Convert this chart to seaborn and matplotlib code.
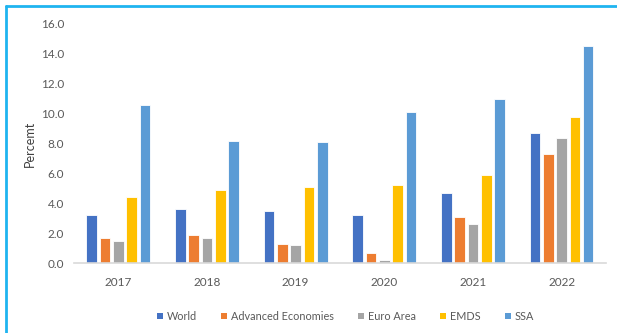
import pandas as pd
import matplotlib.pyplot as plt
import seaborn as sns
from matplotlib.patches import Patch
from matplotlib.lines import Line2D

# ================= data =================
YEARS = ['2017', '2018', '2019', '2020', '2021', '2022']
SERIES = ['World', 'Advanced Economies', 'Euro Area', 'EMDS', 'SSA']
WORLD = [3.2, 3.6, 3.5, 3.2, 4.7, 8.7]
ADVANCED = [1.7, 1.9, 1.3, 0.7, 3.1, 7.3]
EURO_AREA = [1.5, 1.7, 1.2, 0.2, 2.6, 8.4]
EMDS = [4.4, 4.9, 5.1, 5.2, 5.9, 9.8]
SSA = [10.6, 8.2, 8.1, 10.1, 11.0, 14.5]
COLORS = ['#4472C4', '#ED7D31', '#A5A5A5', '#FFC000', '#5B9BD5']

df = pd.DataFrame({'Year': YEARS * 5,
                   'Series': [s for s in SERIES for _ in YEARS],
                   'Value': WORLD + ADVANCED + EURO_AREA + EMDS + SSA})

# ================= style =================
sns.set_theme(style='white')
plt.rcParams['font.family'] = ['Lato', 'DejaVu Sans']

fig = plt.figure(figsize=(6.17, 3.33), dpi=100)
ax = fig.add_axes([0.12, 0.21, 0.862, 0.718])

sns.barplot(data=df, x='Year', y='Value', hue='Series', palette=COLORS,
            saturation=1, width=0.75, gap=0.2, edgecolor='white', linewidth=0.6,
            legend=False, ax=ax)

ax.set_ylim(0, 16)
ax.set_yticks(range(0, 17, 2))
ax.set_yticklabels([f'{v:.1f}' for v in range(0, 17, 2)])
ax.set_xlim(-0.5, 5.5)
ax.tick_params(axis='both', labelsize=8.5, colors='#595959', length=0, pad=7)
ax.tick_params(axis='x', pad=10)
ax.set_xlabel('')
ax.set_ylabel('Percemt', fontsize=9, color='#404040', labelpad=4)

for s in ['top', 'right', 'left']:
    ax.spines[s].set_visible(False)
ax.spines['bottom'].set_color('#D9D9D9')
ax.spines['bottom'].set_linewidth(1.2)

handles = [Patch(facecolor=c, edgecolor='none', label=s) for c, s in zip(COLORS, SERIES)]
fig.legend(handles=handles, loc='center', bbox_to_anchor=(0.56, 0.05), ncol=5,
           frameon=False, fontsize=7.8, handlelength=0.55, handleheight=0.55,
           handletextpad=0.4, columnspacing=2.2, labelcolor='#595959')

# outer frame of the original graphic (cropped on right / bottom)
fig.add_artist(Line2D([5.5 / 617, 5.5 / 617], [0, 1 - 6 / 333], color='#1FB4F0', lw=2,
                      transform=fig.transFigure))
fig.add_artist(Line2D([5.5 / 617, 1], [1 - 6 / 333, 1 - 6 / 333], color='#1FB4F0', lw=2,
                      transform=fig.transFigure))

fig.savefig('out.png', dpi=100)
